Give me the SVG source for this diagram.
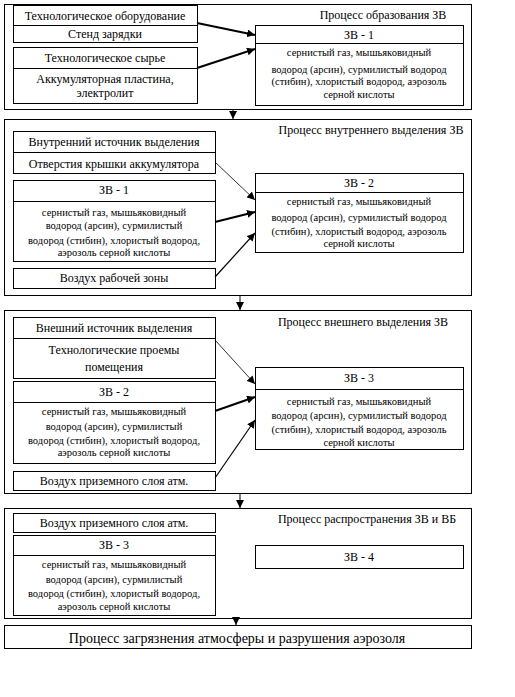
<svg xmlns="http://www.w3.org/2000/svg" width="515" height="697" viewBox="0 0 515 697">
<style>
rect{fill:none;stroke:#000;stroke-width:1}
line.d{stroke:#000;stroke-width:1}
text{font-family:"Liberation Serif","Times New Roman",serif;fill:#000;text-anchor:middle}
.m{font-size:12px}
.s{font-size:10.5px}
.t{font-size:12px}
.b{font-size:14px}
.c line{stroke:#000}
</style>
<defs>
<marker id="ah" markerUnits="userSpaceOnUse" markerWidth="9" markerHeight="8" refX="8" refY="4" orient="auto">
<path d="M0,0 L8,4 L0,8 Z" fill="#000"/>
</marker>
</defs>
<rect x="0" y="0" width="515" height="697" fill="#fff" style="fill:#fff;stroke:none"/>

<!-- Block 1 -->
<g id="block1">
<rect x="4.5" y="4.5" width="467" height="105"/>
<text class="t" x="383" y="19">Процесс образования ЗВ</text>
</g>
<g id="equipment">
<rect x="13.5" y="5.5" width="184" height="37"/>
<line class="d" x1="13.5" y1="25.5" x2="197.5" y2="25.5"/>
<text class="m" x="105" y="20">Технологическое оборудование</text>
<text class="m" x="105" y="38">Стенд зарядки</text>
</g>
<g id="raw">
<rect x="13.5" y="47.5" width="184" height="56"/>
<line class="d" x1="13.5" y1="68.5" x2="197.5" y2="68.5"/>
<text class="m" x="105" y="62">Технологическое сырье</text>
<text class="m" x="105" y="83">Аккумуляторная пластина,</text>
<text class="m" x="105" y="97">электролит</text>
</g>
<g id="zv1">
<rect x="255.5" y="25.5" width="208" height="80"/>
<line class="d" x1="255.5" y1="43.5" x2="463.5" y2="43.5"/>
<text class="m" x="359" y="39">ЗВ - 1</text>
<text class="s" x="359" y="56">сернистый газ, мышьяковидный</text>
<text class="s" x="359" y="73">водород (арсин), сурмилистый водород</text>
<text class="s" x="359" y="85">(стибин), хлористый водород, аэрозоль</text>
<text class="s" x="359" y="98">серной кислоты</text>
</g>

<!-- Block 2 -->
<g id="block2">
<rect x="4.5" y="119.5" width="467" height="176"/>
<text class="t" x="371" y="134">Процесс внутреннего выделения ЗВ</text>
</g>
<g id="internal">
<rect x="13.5" y="131.5" width="202" height="42"/>
<line class="d" x1="13.5" y1="152.5" x2="215.5" y2="152.5"/>
<text class="m" x="114" y="146">Внутренний источник выделения</text>
<text class="m" x="114" y="168">Отверстия крышки аккумулятора</text>
</g>
<g id="zv1b">
<rect x="13.5" y="180.5" width="202" height="81"/>
<line class="d" x1="13.5" y1="201.5" x2="215.5" y2="201.5"/>
<text class="m" x="114" y="194">ЗВ - 1</text>
<text class="s" x="114" y="216">сернистый газ, мышьяковидный</text>
<text class="s" x="114" y="229">водород (арсин), сурмилистый</text>
<text class="s" x="114" y="244">водород (стибин), хлористый водород,</text>
<text class="s" x="114" y="256">аэрозоль серной кислоты</text>
</g>
<g id="workair">
<rect x="13.5" y="268.5" width="202" height="20"/>
<text class="m" x="114" y="282">Воздух рабочей зоны</text>
</g>
<g id="zv2">
<rect x="255.5" y="173.5" width="208" height="79"/>
<line class="d" x1="255.5" y1="192.5" x2="463.5" y2="192.5"/>
<text class="m" x="359" y="187">ЗВ - 2</text>
<text class="s" x="359" y="205">сернистый газ, мышьяковидный</text>
<text class="s" x="359" y="221">водород (арсин), сурмилистый водород</text>
<text class="s" x="359" y="235">(стибин), хлористый водород, аэрозоль</text>
<text class="s" x="359" y="247">серной кислоты</text>
</g>

<!-- Block 3 -->
<g id="block3">
<rect x="4.5" y="310.5" width="467" height="183"/>
<text class="t" x="363" y="326">Процесс внешнего выделения ЗВ</text>
</g>
<g id="external">
<rect x="13.5" y="317.5" width="202" height="61"/>
<line class="d" x1="13.5" y1="338.5" x2="215.5" y2="338.5"/>
<text class="m" x="114" y="332">Внешний источник выделения</text>
<text class="m" x="114" y="354">Технологические проемы</text>
<text class="m" x="114" y="371">помещения</text>
</g>
<g id="zv2b">
<rect x="13.5" y="381.5" width="202" height="82"/>
<line class="d" x1="13.5" y1="402.5" x2="215.5" y2="402.5"/>
<text class="m" x="114" y="396">ЗВ - 2</text>
<text class="s" x="114" y="415">сернистый газ, мышьяковидный</text>
<text class="s" x="114" y="430">водород (арсин), сурмилистый</text>
<text class="s" x="114" y="444">водород (стибин), хлористый водород,</text>
<text class="s" x="114" y="456">аэрозоль серной кислоты</text>
</g>
<g id="groundair">
<rect x="13.5" y="471.5" width="202" height="19"/>
<text class="m" x="114" y="485">Воздух приземного слоя атм.</text>
</g>
<g id="zv3">
<rect x="255.5" y="367.5" width="208" height="82"/>
<line class="d" x1="255.5" y1="389.5" x2="463.5" y2="389.5"/>
<text class="m" x="359" y="382">ЗВ - 3</text>
<text class="s" x="359" y="405">сернистый газ, мышьяковидный</text>
<text class="s" x="359" y="419">водород (арсин), сурмилистый водород</text>
<text class="s" x="359" y="433">(стибин), хлористый водород, аэрозоль</text>
<text class="s" x="359" y="446">серной кислоты</text>
</g>

<!-- Block 4 -->
<g id="block4">
<rect x="4.5" y="508.5" width="467" height="110"/>
<text class="t" x="367" y="523">Процесс распространения ЗВ и ВБ</text>
</g>
<g id="groundair2">
<rect x="13.5" y="513.5" width="202" height="19"/>
<text class="m" x="114" y="527">Воздух приземного слоя атм.</text>
</g>
<g id="zv3b">
<rect x="13.5" y="535.5" width="202" height="80"/>
<line class="d" x1="13.5" y1="555.5" x2="215.5" y2="555.5"/>
<text class="m" x="114" y="549">ЗВ - 3</text>
<text class="s" x="114" y="568">сернистый газ, мышьяковидный</text>
<text class="s" x="114" y="583">водород (арсин), сурмилистый</text>
<text class="s" x="114" y="597">водород (стибин), хлористый водород,</text>
<text class="s" x="114" y="610">аэрозоль серной кислоты</text>
</g>
<g id="zv4">
<rect x="255.5" y="545.5" width="208" height="23"/>
<text class="m" x="359" y="561">ЗВ - 4</text>
</g>

<!-- Final -->
<g id="final">
<rect x="4.5" y="625.5" width="467" height="23"/>
<text class="b" x="237" y="643">Процесс загрязнения атмосферы и разрушения аэрозоля</text>
</g>

<!-- Connectors -->
<g id="connectors" class="c">
<line x1="197" y1="23" x2="255" y2="35" stroke-width="2" marker-end="url(#ah)"/>
<line x1="197" y1="68" x2="255" y2="49" stroke-width="2" marker-end="url(#ah)"/>
<line x1="233" y1="110" x2="233" y2="119" stroke-width="1" marker-end="url(#ah)"/>
<line x1="215" y1="162" x2="255" y2="200" stroke-width="0.8" marker-end="url(#ah)"/>
<line x1="215" y1="222" x2="255" y2="212" stroke-width="2" marker-end="url(#ah)"/>
<line x1="215" y1="277" x2="255" y2="233" stroke-width="1.2" marker-end="url(#ah)"/>
<line x1="240" y1="296" x2="240" y2="310" stroke-width="1" marker-end="url(#ah)"/>
<line x1="215" y1="340" x2="255" y2="384" stroke-width="0.8" marker-end="url(#ah)"/>
<line x1="215" y1="411" x2="255" y2="397" stroke-width="2" marker-end="url(#ah)"/>
<line x1="215" y1="478" x2="255" y2="420" stroke-width="1.2" marker-end="url(#ah)"/>
<line x1="240" y1="494" x2="240" y2="508" stroke-width="1" marker-end="url(#ah)"/>
<line x1="236" y1="619" x2="236" y2="625" stroke-width="1" marker-end="url(#ah)"/>
</g>
</svg>
